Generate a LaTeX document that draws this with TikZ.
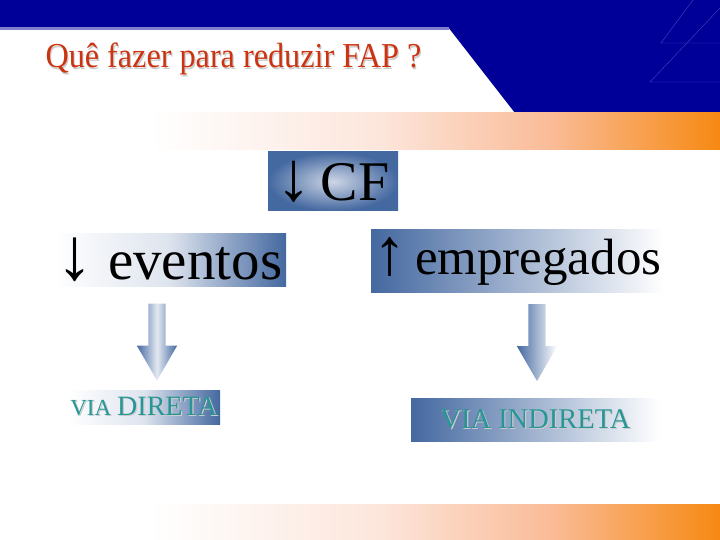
\documentclass[tikz,border=0pt]{standalone}
\usepackage{fontspec}
\setmainfont{Liberation Serif}
\newfontfamily\titlefont[FakeStretch=0.92]{Liberation Serif}
\usetikzlibrary{shapes.arrows}

\definecolor{navy}{RGB}{0,0,153}
\definecolor{lavender}{RGB}{128,128,204}
\definecolor{triline}{RGB}{70,70,190}
\definecolor{boxblue}{RGB}{68,104,160}
\definecolor{boxlight}{RGB}{205,214,230}
\definecolor{evmid}{RGB}{222,228,238}
\definecolor{titlered}{RGB}{204,51,17}
\definecolor{viateal}{RGB}{40,150,150}
\definecolor{peachA}{RGB}{252,230,220}
\definecolor{peachB}{RGB}{250,188,152}
\definecolor{bandorange}{RGB}{246,137,18}

\pgfdeclarehorizontalshading{orangefade}{100bp}{color(0bp)=(white); color(25bp)=(white); color(45bp)=(peachA); color(60bp)=(peachB); color(75bp)=(bandorange); color(100bp)=(bandorange)}
\pgfdeclarehorizontalshading{bluefade}{100bp}{color(0bp)=(white); color(25bp)=(white); color(50bp)=(evmid); color(75bp)=(boxblue); color(100bp)=(boxblue)}

\newcommand{\shadowtxt}[2][gray!40]{\rlap{\kern1.2pt\raisebox{-1.2pt}{\textcolor{#1}{#2}}}#2}
\newcommand{\bigarrow}[2]{{\fontsize{#1}{#1}\selectfont #2}}

\begin{document}
\begin{tikzpicture}[
x=1pt, y=-1pt,
bigbox/.style={inner sep=0pt, text=black},
viabox/.style={inner sep=0pt, text=viateal},
blockarrow/.style={single arrow, shape border rotate=270, inner sep=8.5pt, minimum height=77pt, single arrow head extend=11.5pt, single arrow tip angle=60}
]
\useasboundingbox (0,0) rectangle (720,540);

% header
\fill[navy] (0,0) rectangle (720,27);
\fill[navy] (448,27) -- (720,27) -- (720,113) -- (515,113) -- cycle;
\fill[lavender] (0,27) rectangle (449,30);
\draw[triline] (693,0) -- (661,43) -- (720,43);
\draw[triline] (720,8) -- (650,82) -- (720,82);
\shade[shading=orangefade] (150,113) rectangle (720,150);
\shade[shading=orangefade] (150,504) rectangle (720,540);

\node[anchor=west, text=titlered, font=\titlefont\fontsize{35}{35}\selectfont] (title) at (42,60) {\shadowtxt{Quê fazer para reduzir FAP ?}};

\node[bigbox, minimum width=130pt, minimum height=59pt, inner color=boxlight, outer color=boxblue, font=\fontsize{56}{56}\selectfont] (cf) at (333,181.5) {\raisebox{-2pt}{\bigarrow{70}{↓}\,CF}};
\node[bigbox, minimum width=233pt, minimum height=53pt, shading=bluefade, font=\fontsize{57}{57}\selectfont] (ev) at (169.5,259.5) {\raisebox{-5pt}{\bigarrow{74}{↓} eventos}};
\node[bigbox, minimum width=293pt, minimum height=62pt, left color=boxblue, right color=white, font=\fontsize{51}{51}\selectfont] (emp) at (517.5,261) {\raisebox{-3pt}{\bigarrow{66}{↑}\,empregados}};

\node[blockarrow, left color=boxblue, right color=boxblue, middle color=white!85!boxblue] (a1) at (157,334.5) {};
\node[blockarrow, left color=boxblue, right color=white] (a2) at (537,335) {};

\node[viabox, minimum width=152pt, minimum height=34pt, shading=bluefade] (vd) at (144,407) {\shadowtxt{\fontsize{23}{23}\selectfont VIA\hspace{6pt}\fontsize{28}{28}\selectfont DIRETA}};
\node[viabox, minimum width=249pt, minimum height=43pt, left color=boxblue, right color=white, font=\fontsize{28.5}{28.5}\selectfont] (vi) at (535.5,419.5) {\shadowtxt{VIA INDIRETA}};
\end{tikzpicture}
\end{document}
